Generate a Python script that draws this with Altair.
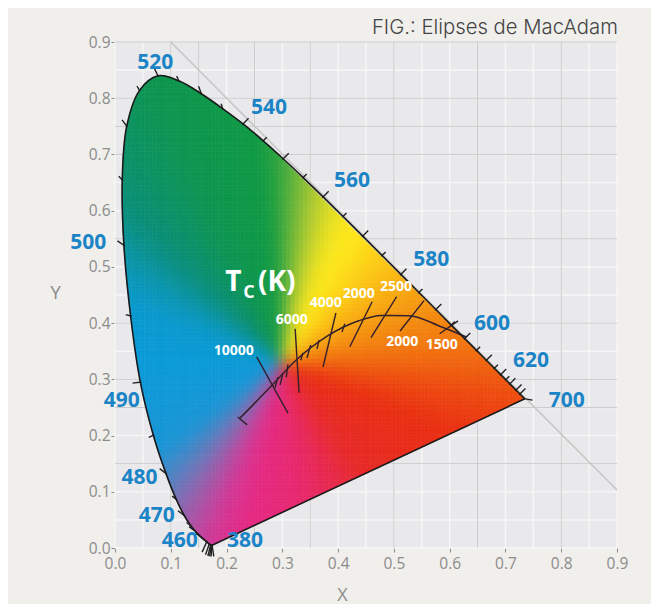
import altair as alt
import numpy as np
import pandas as pd

TITLE = "FIG.: Elipses de MacAdam"
TICKS = [0.0, 0.1, 0.2, 0.3, 0.4, 0.5, 0.6, 0.7, 0.8, 0.9]

WAVE = [380,400,410,420,430,440,445,450,455,460,465,470,475,480,485,490,495,500,505,510,515,520,525,530,535,540,545,550,555,560,565,570,575,580,585,590,595,600,605,610,615,620,625,630,640,650,700]
LOCUS_X = [.1741,.1733,.1726,.1714,.1689,.1644,.1611,.1566,.1510,.1440,.1355,.1241,.1096,.0913,.0687,.0454,.0280,.0160,.0130,.0210,.0440,.0770,.1142,.1547,.1929,.2296,.2658,.3016,.3373,.3731,.4087,.4441,.4788,.5125,.5448,.5752,.6029,.6270,.6482,.6658,.6801,.6915,.7006,.7079,.7190,.7260,.7347]
LOCUS_Y = [.0050,.0048,.0048,.0051,.0069,.0109,.0138,.0177,.0227,.0297,.0399,.0578,.0868,.1327,.2007,.2950,.4127,.5384,.6548,.7502,.8140,.8400,.8310,.8080,.7816,.7543,.7243,.6923,.6589,.6245,.5896,.5547,.5202,.4866,.4544,.4242,.3965,.3725,.3514,.3340,.3197,.3083,.2993,.2920,.2809,.2740,.2653]

# colour stops: direction around the middle of the diagram, colour
CENTRE_X, CENTRE_Y = .30, .33
STOP_DEG = [-180,-144,-133,-123,-113,-103,-82,-68,-54,-22,-9,4,20,41,60,68,76,84,90,96,115,135,148,160,180]
STOP_COL = ["#0a9bd8","#1a96d6","#5a80c0","#9a60ac","#d03a98","#e52a85","#e8286e","#e82a50","#e82a28","#ea2f12","#ee4a10","#f2720f","#f59210","#fcc014","#ffe81a","#f6e61e","#c8d42c","#80bc38","#3aa83e","#0e9a44","#0e9650","#0a8f78","#0a96b0","#0a9ad0","#0a9bd8"]

PLANCK_X = [.224,.2807,.3221,.3805,.4369,.4770,.5267,.5857,.631]
PLANCK_Y = [.231,.2884,.3318,.3768,.4041,.4137,.4133,.3931,.375]

SEG_X1 = [.254,.323,.396,.461,.505,.554,.615,.412,.366,.351,.337,.310,.301,.292,.220]
SEG_Y1 = [.340,.390,.418,.438,.447,.440,.404,.399,.370,.361,.347,.326,.311,.304,.233]
SEG_X2 = [.310,.330,.373,.421,.459,.511,.582,.407,.362,.344,.333,.307,.296,.287,.237]
SEG_Y2 = [.240,.276,.322,.358,.374,.386,.381,.384,.354,.338,.334,.304,.290,.285,.219]

NM_TEXT = ["520","540","560","580","600","620","700","500","490","480","470","460","380"]
NM_X = [.072,.276,.425,.567,.676,.746,.810,-.048,.012,.044,.075,.116,.233]
NM_Y = [.863,.783,.653,.513,.399,.333,.262,.542,.262,.124,.057,.012,.012]

K_TEXT = ["10000","6000","4000","2000","2500","2000","1500"]
K_X = [.213,.317,.378,.437,.504,.515,.586]
K_Y = [.351,.406,.436,.452,.464,.366,.361]

GRAY_V = [.10,.15,.25,.35,.50,.65,.80]
GRAY_H = [.15,.25,.30,.40,.55,.70,.75,.80,.90]
WHITE_V = [round(i * .05, 2) for i in range(19)]
WHITE_H = [round(i * .05, 2) for i in range(19)]

scale_x = alt.Scale(domain=[0, .9], nice=False, zero=False)
scale_y = alt.Scale(domain=[0, .9], nice=False, zero=False)


def hex2rgb(c):
    return [int(c[i:i + 2], 16) for i in (1, 3, 5)]


stop_rgb = np.array([hex2rgb(c) for c in STOP_COL], float)

# colour field on a regular grid, softened a little
D = .0075
NX, NY = int(.76 / D), int(.85 / D)
gx, gy = np.meshgrid((np.arange(NX) + .5) * D, (np.arange(NY) + .5) * D, indexing="ij")
ang = np.degrees(np.arctan2(gy - CENTRE_Y, gx - CENTRE_X))
field = np.stack([np.interp(ang, STOP_DEG, stop_rgb[:, k]) for k in range(3)], axis=-1)
kern = np.array([1, 4, 6, 4, 1], float) / 16
for _ in range(3):
    for axis in (0, 1):
        field = np.apply_along_axis(lambda v: np.convolve(np.pad(v, 2, mode="edge"), kern, mode="valid"), axis, field)


def spline(pts):
    """Smooth the drawn boundary for the fill so that it follows the catmull-rom outline."""
    out = []
    n = len(pts)
    for i in range(n - 1):
        p0, p1, p2, p3 = pts[max(i - 1, 0)], pts[i], pts[i + 1], pts[min(i + 2, n - 1)]
        for t in (0, .25, .5, .75):
            out.append(tuple(.5 * (2 * p1[k] + (p2[k] - p0[k]) * t + (2 * p0[k] - 5 * p1[k] + 4 * p2[k] - p3[k]) * t * t
                                   + (3 * p1[k] - p0[k] - 3 * p2[k] + p3[k]) * t ** 3) for k in (0, 1)))
    out.append(pts[-1])
    return out


poly = spline(list(zip(LOCUS_X, LOCUS_Y)))
area = sum(poly[i][0] * poly[(i + 1) % len(poly)][1] - poly[(i + 1) % len(poly)][0] * poly[i][1] for i in range(len(poly)))
if area < 0:
    poly = poly[::-1]


def side(a, b, p):
    return (b[0] - a[0]) * (p[1] - a[1]) - (b[1] - a[1]) * (p[0] - a[0])


def clip(subject):
    out = subject
    for i in range(len(poly)):
        a, b = poly[i], poly[(i + 1) % len(poly)]
        if a == b:
            continue
        cur, out = out, []
        for j in range(len(cur)):
            p, q = cur[j], cur[(j + 1) % len(cur)]
            sp, sq = side(a, b, p), side(a, b, q)
            if sp >= 0:
                out.append(p)
            if (sp >= 0) != (sq >= 0):
                t = sp / (sp - sq)
                out.append((p[0] + t * (q[0] - p[0]), p[1] + t * (q[1] - p[1])))
        if not out:
            return []
    return out


rects, polys = [], []
cid = 0
for i in range(NX):
    for j in range(NY):
        x0, y0 = i * D, j * D
        sq = [(x0, y0), (x0 + D, y0), (x0 + D, y0 + D), (x0, y0 + D)]
        c = clip(sq)
        if len(c) < 3:
            continue
        col = "#%02x%02x%02x" % tuple(int(v) for v in field[i, j])
        if len(c) == 4 and all(abs(a[0] - b[0]) + abs(a[1] - b[1]) < 1e-12 for a, b in zip(c, sq)):
            rects.append({"x": round(x0, 4), "x2": round(x0 + D, 4), "y": round(y0, 4), "y2": round(y0 + D, 4), "c": col})
        else:
            for k, p in enumerate(c + [c[0]]):
                polys.append({"x": round(p[0], 5), "y": round(p[1], 5), "k": k, "id": cid, "c": col})
            cid += 1

X = alt.X("x:Q", scale=scale_x, title="X",
          axis=alt.Axis(values=TICKS, format=".1f", grid=False, domain=False, tickSize=4, tickColor="#8c8c8c",
                        labelColor="#8c8c8c", labelFontSize=15.5, labelFont="Open Sans", labelPadding=4, labelFlush=False,
                        labelOverlap=False,
                        titleColor="#8c8c8c", titleFontSize=18, titleFont="Open Sans", titleFontWeight="normal",
                        titleX=227, titleY=38))
Y = alt.Y("y:Q", scale=scale_y, title="Y",
          axis=alt.Axis(values=TICKS, format=".1f", grid=False, domain=False, tickSize=4, tickColor="#8c8c8c",
                        labelColor="#8c8c8c", labelFontSize=15.5, labelFont="Open Sans", labelPadding=1, labelFlush=False,
                        labelOverlap=False,
                        titleColor="#8c8c8c", titleFontSize=19, titleFont="Open Sans", titleFontWeight="normal",
                        titleAngle=0, titleX=-60, titleY=260))

white_v = alt.Chart(pd.DataFrame({"x": WHITE_V})).mark_rule(color="#f6f6f6", strokeWidth=1.5).encode(x=X)
white_h = alt.Chart(pd.DataFrame({"y": WHITE_H})).mark_rule(color="#f6f6f6", strokeWidth=1.5).encode(y=Y)
gray_v = alt.Chart(pd.DataFrame({"x": GRAY_V})).mark_rule(color="#c9c9c9", strokeWidth=1).encode(x=X)
gray_h = alt.Chart(pd.DataFrame({"y": GRAY_H})).mark_rule(color="#c9c9c9", strokeWidth=1).encode(y=Y)

diag = alt.Chart(pd.DataFrame({"x": [.1, .9], "y": [.9, .103]})).mark_line(color="#c6c6c6", strokeWidth=1.5).encode(x=X, y=Y)

cells = alt.Chart(pd.DataFrame(rects)).mark_rect(strokeWidth=.6).encode(
    x=X, x2="x2:Q", y=Y, y2="y2:Q",
    fill=alt.Fill("c:N", scale=None), stroke=alt.Stroke("c:N", scale=None))
edge = alt.Chart(pd.DataFrame(polys)).mark_line(strokeWidth=.6).encode(
    x=X, y=Y, order="k:Q", detail="id:N",
    fill=alt.Fill("c:N", scale=None), stroke=alt.Stroke("c:N", scale=None))

# locus ticks, pointing away from the middle of the diagram
tick_rows = []
for n, (w, lx, ly) in enumerate(zip(WAVE, LOCUS_X, LOCUS_Y)):
    dx, dy = lx - .33, ly - .33
    if 540 <= w <= 650:
        dx, dy = .7, .7
    if 445 <= w <= 480:
        dx, dy = -.8, .6
    length = .014 if w % 10 == 0 else .009
    if w < 445:
        dx, dy = .15 - (w - 380) * .01, -1
        length = .02
    m = (dx ** 2 + dy ** 2) ** .5
    tick_rows += [{"x": lx - .002 * dx / m, "y": ly - .002 * dy / m, "id": n, "k": 0},
                  {"x": lx + length * dx / m, "y": ly + length * dy / m, "id": n, "k": 1}]
wticks = alt.Chart(pd.DataFrame(tick_rows)).mark_line(color="#222222", strokeWidth=1.4).encode(
    x=X, y=Y, order="k:Q", detail="id:N")

curve_df = pd.DataFrame({"x": LOCUS_X, "y": LOCUS_Y, "k": list(range(len(LOCUS_X)))})
locus = alt.Chart(curve_df).mark_line(color="#1a1a1a", strokeWidth=1.6, interpolate="catmull-rom").encode(x=X, y=Y, order="k:Q")
purple_df = pd.DataFrame({"x": [LOCUS_X[0], LOCUS_X[-1]], "y": [LOCUS_Y[0], LOCUS_Y[-1]], "k": [0, 1]})
purple = alt.Chart(purple_df).mark_line(color="#1a1a1a", strokeWidth=1.6).encode(x=X, y=Y, order="k:Q")

planck_df = pd.DataFrame({"x": PLANCK_X, "y": PLANCK_Y, "k": list(range(len(PLANCK_X)))})
planck = alt.Chart(planck_df).mark_line(color="#33202c", strokeWidth=1.5, interpolate="monotone").encode(x=X, y=Y, order="k:Q")

seg_rows = []
for n in range(len(SEG_X1)):
    seg_rows += [{"x": SEG_X1[n], "y": SEG_Y1[n], "id": n, "k": 0}, {"x": SEG_X2[n], "y": SEG_Y2[n], "id": n, "k": 1}]
segs = alt.Chart(pd.DataFrame(seg_rows)).mark_line(color="#33202c", strokeWidth=1.4).encode(x=X, y=Y, order="k:Q", detail="id:N")

nm = alt.Chart(pd.DataFrame({"x": NM_X, "y": NM_Y, "t": NM_TEXT})).mark_text(
    font="Open Sans", fontSize=21, fontWeight="bold", color="#1b84c6", clip=False).encode(x=X, y=Y, text="t:N")
kelvin = alt.Chart(pd.DataFrame({"x": K_X, "y": K_Y, "t": K_TEXT})).mark_text(
    font="Open Sans", fontSize=14, fontWeight="bold", color="#ffffff").encode(x=X, y=Y, text="t:N")
tc_t = alt.Chart(pd.DataFrame({"x": [.212], "y": [.472], "t": ["T"]})).mark_text(
    font="Open Sans", fontSize=28, fontWeight="bold", color="#ffffff").encode(x=X, y=Y, text="t:N")
tc_c = alt.Chart(pd.DataFrame({"x": [.240], "y": [.454], "t": ["C"]})).mark_text(
    font="Open Sans", fontSize=18, fontWeight="bold", color="#ffffff").encode(x=X, y=Y, text="t:N")
tc_k = alt.Chart(pd.DataFrame({"x": [.290], "y": [.472], "t": ["(K)"]})).mark_text(
    font="Open Sans", fontSize=28, fontWeight="bold", color="#ffffff").encode(x=X, y=Y, text="t:N")

chart = alt.layer(
    white_v, white_h, gray_v, gray_h, diag, cells, edge, planck, segs, wticks, locus, purple, nm, kelvin, tc_t, tc_c, tc_k
).resolve_scale(x="shared", y="shared").properties(
    width=502, height=506, background="#f0efeb",
    title=alt.TitleParams(TITLE, anchor="end", font="Inter", fontSize=20.3, fontWeight=300, color="#444444", offset=0, dx=-10, dy=3),
    padding={"left": 107, "top": 34, "right": 34, "bottom": 56},
    autosize=alt.AutoSizeParams(type="none"),
).configure_view(fill="#e9e9ec", stroke=None)

chart.save("out.html", embed_options={"renderer": "svg", "actions": False})
